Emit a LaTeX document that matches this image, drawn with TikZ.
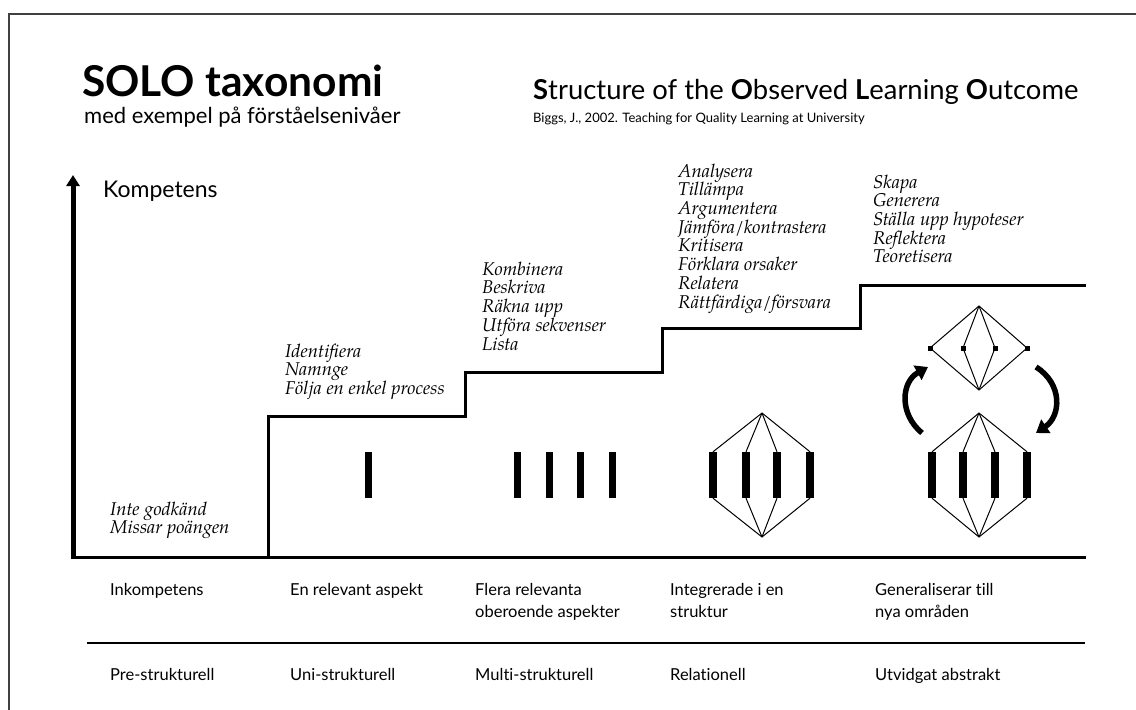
\documentclass[tikz,border=0pt]{standalone}
\usepackage{fontspec}
\setmainfont{Lato}[Ligatures=NoCommon]
\newfontfamily\itfont{texgyrepagella}[Extension=.otf, UprightFont=*-regular, ItalicFont=*-italic, BoldFont=*-bold]
\usetikzlibrary{arrows.meta}
\newcommand\itlist[1]{\begin{tabular}[t]{@{}l@{}}#1\end{tabular}}

\begin{document}
\begin{tikzpicture}[x=1pt, y=-1pt,
  frameline/.style={line width=1.2pt, black!75},
  stair/.style={line width=3pt, line join=miter},
  bar/.style={rectangle, fill=black, inner sep=0pt, minimum width=7pt, minimum height=46pt},
  knot/.style={rectangle, fill=black, inner sep=0pt, minimum size=5pt},
  link/.style={line width=1pt},
  verb/.style={anchor=base west, inner sep=0pt, font=\itfont\itshape\fontsize{18.5}{18}\selectfont},
  level/.style={anchor=base west, inner sep=0pt, font=\fontsize{16.5}{22}\selectfont},
  swing/.style={line width=5.5pt, -{Triangle[width=16pt,length=12pt]}}
]
\useasboundingbox (0,0) rectangle (1136,710);

% frame
\draw[frameline] (9,710) -- (9,14) -- (1136,14);

% headings
\node[anchor=base west, inner sep=0pt, font=\bfseries\fontsize{42.5}{45}\selectfont] (title) at (82,96) {SOLO taxonomi};
\node[anchor=base west, inner sep=0pt, font=\fontsize{22}{24}\selectfont] (subtitle) at (84,123) {med exempel på förståelsenivåer};
\node[anchor=base west, inner sep=0pt, font=\fontsize{27.4}{29}\selectfont] (solo) at (533,99)
  {\textbf{S}tructure of the \textbf{O}bserved \textbf{L}earning \textbf{O}utcome};
\node[anchor=base west, inner sep=0pt, font=\fontsize{13}{15}\selectfont] (ref) at (533,122)
  {Biggs, J., 2002. Teaching for Quality Learning at University};

% competence axis
\node[anchor=base west, inner sep=0pt, font=\fontsize{23}{25}\selectfont] (komp) at (103,197) {Kompetens};
\draw[line width=5pt, -{Triangle[width=13pt,length=11pt]}] (73,559) -- (73,175);

% baseline and staircase
\draw[stair] (71,557) -- (1086,557);
\draw[stair] (268,557) -- (268,416) -- (465,416) -- (465,372) -- (662,372)
  -- (662,328) -- (860,328) -- (860,285) -- (1086,285);

% verbs for each level
\node[verb] (v0) at (110,515) {\itlist{Inte godkänd\\Missar poängen}};
\node[verb] (v1) at (285,357) {\itlist{Identifiera\\Namnge\\Följa en enkel process}};
\node[verb] (v2) at (482,275) {\itlist{Kombinera\\Beskriva\\Räkna upp\\Utföra sekvenser\\Lista}};
\node[verb] (v3) at (678,177) {\itlist{Analysera\\Tillämpa\\Argumentera\\Jämföra/kontrastera\\Kritisera\\Förklara orsaker\\Relatera\\Rättfärdiga/försvara}};
\node[verb] (v4) at (873,188) {\itlist{Skapa\\Generera\\Ställa upp hypoteser\\Reflektera\\Teoretisera}};

% uni-structural
\node[bar] (u1) at (368,475) {};

% multi-structural
\node[bar] (m1) at (517,475) {};
\node[bar] (m2) at (549,475) {};
\node[bar] (m3) at (580,475) {};
\node[bar] (m4) at (612,475) {};

% relational
\coordinate (rt) at (762,413);
\coordinate (rb) at (762,537);
\foreach \i/\x in {1/713,2/746,3/777,4/810} {
  \node[bar, minimum width=8pt] (r\i) at (\x,475) {};
  \draw[link] (rt) -- (r\i.north);
  \draw[link] (rb) -- (r\i.south);
}

% extended abstract: lower structure
\coordinate (et) at (979,413);
\coordinate (eb) at (979,537);
\foreach \i/\x in {1/932,2/963,3/995,4/1027} {
  \node[bar, minimum width=8pt] (e\i) at (\x,475) {};
  \draw[link] (et) -- (e\i.north);
  \draw[link] (eb) -- (e\i.south);
}

% extended abstract: upper structure
\coordinate (dt) at (979,306);
\coordinate (db) at (979,390);
\foreach \i/\x in {1/930,2/963,3/995,4/1027} {
  \node[knot] (d\i) at (\x,348) {};
  \draw[link] (dt) -- (d\i.center);
  \draw[link] (db) -- (d\i.center);
}

% cycling arrows
\coordinate (la) at (922,433);
\coordinate (lb) at (928,367);
\coordinate (ra) at (1036,367);
\coordinate (rb2) at (1036,433);
\draw[swing] (la) .. controls (899,414) and (901,382) .. (lb);
\draw[swing] (ra) .. controls (1063,384) and (1061,416) .. (rb2);

% level descriptions
\node[level] (d0) at (110,595) {Inkompetens};
\node[level] (d1) at (290,595) {En relevant aspekt};
\node[level] (d2) at (475,595) {\itlist{Flera relevanta\\oberoende aspekter}};
\node[level] (d3) at (670,595) {\itlist{Integrerade i en\\struktur}};
\node[level] (d4) at (875,595) {\itlist{Generaliserar till\\nya områden}};

\draw[line width=1.3pt] (87,643) -- (1085,643);

% level names
\node[level] (n0) at (110,680) {Pre-strukturell};
\node[level] (n1) at (290,680) {Uni-strukturell};
\node[level] (n2) at (475,680) {Multi-strukturell};
\node[level] (n3) at (670,680) {Relationell};
\node[level] (n4) at (875,680) {Utvidgat abstrakt};
\end{tikzpicture}
\end{document}
